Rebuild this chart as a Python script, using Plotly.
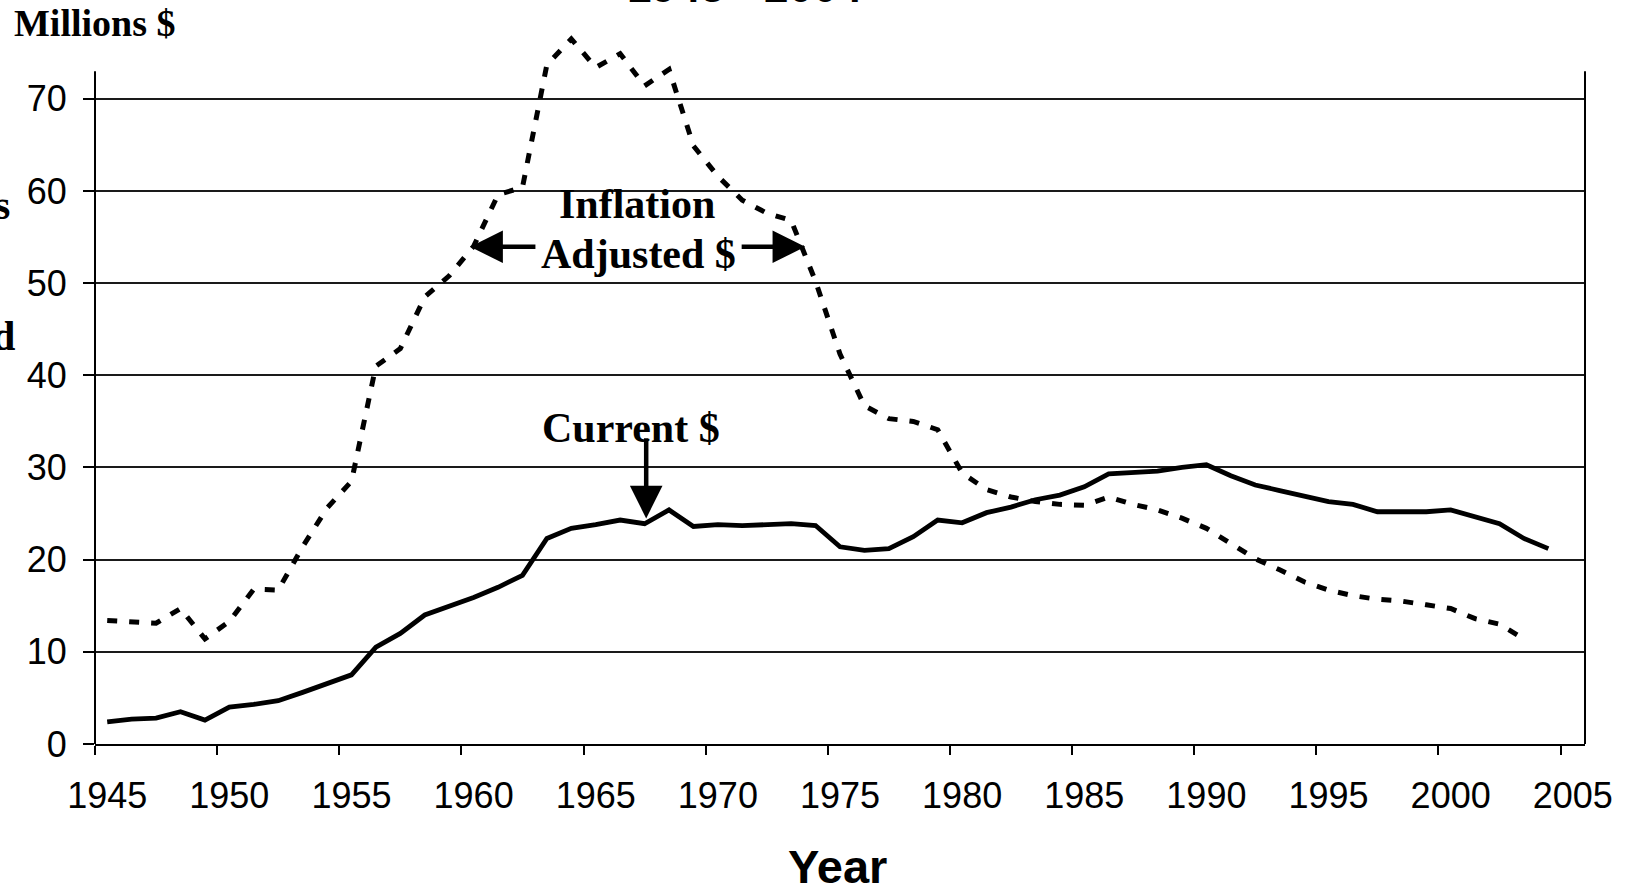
import plotly.graph_objects as go

# ---------------- data ----------------
current_years = list(range(1945, 2005))
current_dollars = [2.4, 2.7, 2.8, 3.5, 2.6, 4.0, 4.3, 4.7, 5.6, 6.5,      # 1945-1954
                   7.5, 10.5, 12.0, 14.0, 14.9, 15.9, 17.0, 18.3, 22.3, 23.4,  # 1955-1964
                   23.8, 24.3, 23.9, 25.4, 23.6, 23.8, 23.7, 23.8, 23.9, 23.7,  # 1965-1974
                   21.4, 21.0, 21.2, 22.5, 24.3, 24.0, 25.1, 25.7, 26.5, 27.0,  # 1975-1984
                   27.9, 29.3, 29.5, 29.6, 30.0, 30.3, 29.1, 28.1, 27.5, 26.9,  # 1985-1994
                   26.3, 26.0, 25.2, 25.2, 25.2, 25.4, 24.7, 23.9, 22.3, 21.2]  # 1995-2004

adjusted_years = list(range(1945, 2004))
inflation_adjusted = [13.4, 13.3, 13.1, 14.7, 11.4, 13.3, 16.8, 16.7, 21.4, 25.6,   # 1945-1954
                      28.5, 41.0, 42.9, 48.5, 50.8, 54.0, 59.6, 60.4, 73.7, 76.5,   # 1955-1964
                      73.4, 74.9, 71.4, 73.2, 64.9, 61.6, 59.0, 57.6, 56.8, 50.2,   # 1965-1974
                      42.3, 36.7, 35.3, 35.0, 34.1, 29.4, 27.6, 26.8, 26.3, 26.0,   # 1975-1984
                      25.9, 26.8, 26.0, 25.4, 24.5, 23.4, 21.8, 20.1, 18.9, 17.6,   # 1985-1994
                      16.7, 16.1, 15.7, 15.5, 15.1, 14.7, 13.6, 13.0, 11.4]         # 1995-2003

x_tick_labels = list(range(1945, 2006, 5))
y_tick_values = list(range(0, 71, 10))
y_axis_top = 73

title_text = "1945 - 2004"
y_unit_text = "Millions $"
x_title_text = "Year"
label_inflation_1 = "Inflation"
label_inflation_2 = "Adjusted $"
label_current = "Current $"

# ---------------- layout geometry ----------------
W, H = 1631, 888
ML, MR, MT, MB = 94.7, 46, 30, 144.2
PW = W - ML - MR
PH = H - MT - MB
PB = H - MB
UNIT = (PB - 98.8) / 70.0            # pixels per million $
Y_TOP = (PB - MT) / UNIT             # value at top of drawing area


def px_x(p):
    return (p - ML) / PW


def px_y(p):
    return (PB - p) / PH


SERIF = "Times New Roman, Liberation Serif, serif"
SANS = "Arial, Liberation Sans, sans-serif"

fig = go.Figure()
fig.add_trace(go.Scatter(
    x=adjusted_years, y=inflation_adjusted, mode="lines",
    line=dict(color="black", width=5, dash="10px,12px"),
    showlegend=False, hoverinfo="x+y"))
fig.add_trace(go.Scatter(
    x=current_years, y=current_dollars, mode="lines",
    line=dict(color="black", width=4.8),
    showlegend=False, hoverinfo="x+y"))

annotations = [
    dict(text=f"<b>{y_unit_text}</b>", x=px_x(11.5), y=px_y(23), xref="paper", yref="paper",
         xanchor="left", yanchor="middle", showarrow=False,
         font=dict(family=SERIF, size=38, color="black")),
    dict(text=f"<b>{title_text}</b>", x=px_x(744), y=px_y(13), xref="paper", yref="paper",
         xanchor="center", yanchor="bottom", showarrow=False,
         font=dict(family=SANS, size=44, color="black")),
    dict(text="<b>s</b>", x=px_x(12), y=px_y(205), xref="paper", yref="paper",
         xanchor="right", yanchor="middle", showarrow=False,
         font=dict(family=SERIF, size=42, color="black")),
    dict(text="<b>d</b>", x=px_x(16.5), y=px_y(336), xref="paper", yref="paper",
         xanchor="right", yanchor="middle", showarrow=False,
         font=dict(family=SERIF, size=42, color="black")),
    dict(text=f"<b>{label_inflation_1}</b>", x=px_x(636.7), y=px_y(204), xref="paper", yref="paper",
         xanchor="center", yanchor="middle", showarrow=False,
         font=dict(family=SERIF, size=42, color="black")),
    dict(text=f"<b>{label_inflation_2}</b>", x=px_x(638.3), y=px_y(254), xref="paper", yref="paper",
         xanchor="center", yanchor="middle", showarrow=False,
         font=dict(family=SERIF, size=42, color="black")),
    dict(text=f"<b>{label_current}</b>", x=px_x(630.8), y=px_y(428), xref="paper", yref="paper",
         xanchor="center", yanchor="middle", showarrow=False,
         font=dict(family=SERIF, size=42, color="black")),
    dict(text=f"<b>{x_title_text}</b>", x=px_x(837), y=px_y(866.5), xref="paper", yref="paper",
         xanchor="center", yanchor="middle", showarrow=False,
         font=dict(family=SANS, size=47, color="black")),
    # arrows
    dict(text="", x=px_x(646), y=px_y(518.3), xref="paper", yref="paper",
         ax=0, ay=-81.6, showarrow=True, arrowhead=2, arrowsize=1.45, arrowwidth=4.5,
         arrowcolor="black"),
    dict(text="", x=px_x(470), y=px_y(246.7), xref="paper", yref="paper",
         ax=66.7, ay=0, showarrow=True, arrowhead=2, arrowsize=1.45, arrowwidth=4.5,
         arrowcolor="black"),
    dict(text="", x=px_x(805), y=px_y(246.7), xref="paper", yref="paper",
         ax=-65, ay=0, showarrow=True, arrowhead=2, arrowsize=1.45, arrowwidth=4.5,
         arrowcolor="black"),
]

shapes = [
    dict(type="line", xref="paper", yref="y", x0=0, x1=0, y0=0, y1=y_axis_top,
         line=dict(color="black", width=2)),
    dict(type="line", xref="paper", yref="y", x0=1, x1=1, y0=0, y1=y_axis_top,
         line=dict(color="black", width=2)),
]

fig.update_layout(
    width=W, height=H,
    margin=dict(l=ML, r=MR, t=MT, b=MB, autoexpand=False),
    paper_bgcolor="white", plot_bgcolor="white",
    showlegend=False,
    annotations=annotations,
    shapes=shapes,
    xaxis=dict(
        range=[1944.5, 2005.5], tickmode="array", tickvals=x_tick_labels,
        ticktext=[str(v) for v in x_tick_labels],
        ticks="", showgrid=False, zeroline=False,
        showline=True, linecolor="black", linewidth=2, mirror=False,
        tickfont=dict(family=SANS, size=36, color="black"),
        ticklabelstandoff=19,
        minor=dict(tickmode="array", tickvals=[v - 0.5 for v in x_tick_labels],
                   ticks="outside", ticklen=9, tickwidth=1.5, tickcolor="black",
                   showgrid=False),
    ),
    yaxis=dict(
        range=[0, Y_TOP], tickmode="array", tickvals=y_tick_values,
        ticks="outside", ticklen=11, tickwidth=1.5, tickcolor="black",
        showgrid=True, gridcolor="#1a1a1a", gridwidth=1.6, zeroline=False,
        showline=False,
        tickfont=dict(family=SANS, size=36, color="black"),
        ticklabelstandoff=9,
    ),
)

fig.write_html("out.html", config={"displayModeBar": False},
               post_script="document.body.style.margin='0px';")
